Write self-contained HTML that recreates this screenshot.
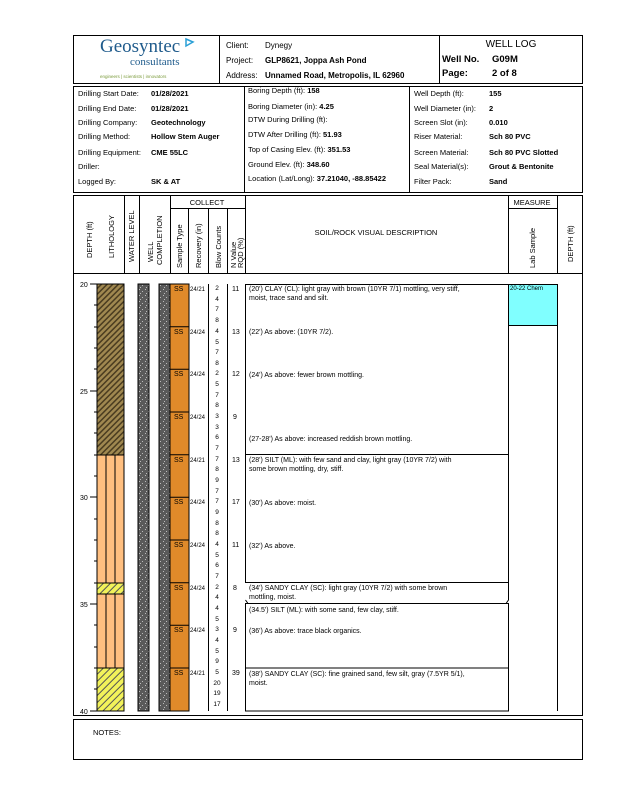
<!DOCTYPE html>
<html><head><meta charset="utf-8"><style>
body{margin:0;background:#fff;}
svg{display:block;font-family:"Liberation Sans",Arial,sans-serif;}
</style></head><body>
<svg width="618" height="800" viewBox="0 0 618 800" xmlns="http://www.w3.org/2000/svg">
<defs>
<pattern id="hb" width="4" height="4" patternUnits="userSpaceOnUse" patternTransform="rotate(45)">
<rect width="4" height="4" fill="#a08850"/><rect width="1.5" height="4" fill="#4a3c20"/></pattern>
<pattern id="hy" width="5" height="5" patternUnits="userSpaceOnUse" patternTransform="rotate(45)">
<rect width="5" height="5" fill="#f2f25a"/><rect width="1" height="5" fill="#555"/></pattern>
<pattern id="gr" width="6" height="6" patternUnits="userSpaceOnUse">
<rect width="6" height="6" fill="#5a5a5a"/><rect x="1" y="1" width="1" height="1" fill="#bbb"/><rect x="4" y="3" width="1" height="1" fill="#bbb"/><rect x="2" y="5" width="1" height="1" fill="#bbb"/></pattern>
</defs>
<g fill="none" stroke="#000" stroke-width="1">
<rect x="73.5" y="35.5" width="509" height="48"/>
<line x1="219.5" y1="35" x2="219.5" y2="84"/>
<line x1="439.5" y1="35" x2="439.5" y2="84"/>
<rect x="73.5" y="86.5" width="509" height="106"/>
<line x1="244.5" y1="86" x2="244.5" y2="193"/>
<line x1="409.5" y1="86" x2="409.5" y2="193"/>
<rect x="73.5" y="195.5" width="509" height="520"/>
<line x1="73" y1="273.5" x2="583" y2="273.5"/>
</g>
<!-- logo -->
<text x="100" y="52" font-family="Liberation Serif,serif" font-size="19" fill="#1f5b8c">Geosyntec</text>
<path d="M186 39 L193 42 L186 46 Z" fill="none" stroke="#2a9fd6" stroke-width="1.5"/>
<text x="130" y="65" font-family="Liberation Serif,serif" font-size="11" fill="#1f5b8c">consultants</text>
<text x="100" y="78" font-size="4.5" fill="#7a9a3a">engineers | scientists | innovators</text>
<g font-size="8" fill="#000">
<text x="226" y="48">Client:</text><text x="265" y="48">Dynegy</text>
<text x="226" y="63">Project:</text><text x="265" y="63" font-weight="bold">GLP8621, Joppa Ash Pond</text>
<text x="226" y="78">Address:</text><text x="265" y="78" font-weight="bold">Unnamed Road, Metropolis, IL 62960</text>
</g>
<text x="511" y="47" font-size="10" text-anchor="middle">WELL LOG</text>
<text x="442" y="62" font-size="9.5" font-weight="bold">Well No.</text><text x="492" y="62" font-size="9.5" font-weight="bold">G09M</text>
<text x="442" y="76" font-size="9.5" font-weight="bold">Page:</text><text x="492" y="76" font-size="9.5" font-weight="bold">2 of 8</text>
<g font-size="7.5" fill="#000">
<text x="78" y="96">Drilling Start Date:</text><text x="151" y="96" font-weight="bold">01/28/2021</text>
<text x="78" y="111">Drilling End Date:</text><text x="151" y="111" font-weight="bold">01/28/2021</text>
<text x="78" y="125">Drilling Company:</text><text x="151" y="125" font-weight="bold">Geotechnology</text>
<text x="78" y="139">Drilling Method:</text><text x="151" y="139" font-weight="bold">Hollow Stem Auger</text>
<text x="78" y="155">Drilling Equipment:</text><text x="151" y="155" font-weight="bold">CME 55LC</text>
<text x="78" y="169">Driller:</text>
<text x="78" y="184">Logged By:</text><text x="151" y="184" font-weight="bold">SK &amp; AT</text>
<text x="248" y="93">Boring Depth (ft):   <tspan font-weight="bold">158</tspan></text>
<text x="248" y="109">Boring Diameter (in):   <tspan font-weight="bold">4.25</tspan></text>
<text x="248" y="122">DTW During Drilling (ft):</text>
<text x="248" y="137">DTW After Drilling (ft):   <tspan font-weight="bold">51.93</tspan></text>
<text x="248" y="152">Top of Casing Elev. (ft): <tspan font-weight="bold">351.53</tspan></text>
<text x="248" y="167">Ground Elev. (ft):  <tspan font-weight="bold">348.60</tspan></text>
<text x="248" y="181">Location (Lat/Long):  <tspan font-weight="bold">37.21040, -88.85422</tspan></text>
<text x="414" y="96">Well Depth (ft):</text><text x="489" y="96" font-weight="bold">155</text>
<text x="414" y="111">Well Diameter (in):</text><text x="489" y="111" font-weight="bold">2</text>
<text x="414" y="125">Screen Slot (in):</text><text x="489" y="125" font-weight="bold">0.010</text>
<text x="414" y="139">Riser Material:</text><text x="489" y="139" font-weight="bold">Sch 80 PVC</text>
<text x="414" y="155">Screen Material:</text><text x="489" y="155" font-weight="bold">Sch 80 PVC Slotted</text>
<text x="414" y="169">Seal Material(s):</text><text x="489" y="169" font-weight="bold">Grout &amp; Bentonite</text>
<text x="414" y="184">Filter Pack:</text><text x="489" y="184" font-weight="bold">Sand</text>
</g>
<!-- column header -->
<g stroke="#000" stroke-width="1">
<line x1="124.5" y1="195" x2="124.5" y2="273"/>
<line x1="139.5" y1="195" x2="139.5" y2="273"/>
<line x1="170.5" y1="195" x2="170.5" y2="273"/>
<line x1="188.5" y1="208" x2="188.5" y2="273"/>
<line x1="208.5" y1="208" x2="208.5" y2="273"/>
<line x1="227.5" y1="208" x2="227.5" y2="273"/>
<line x1="245.5" y1="195" x2="245.5" y2="273"/>
<line x1="508.5" y1="195" x2="508.5" y2="273"/>
<line x1="557.5" y1="195" x2="557.5" y2="273"/>
<line x1="170" y1="208.5" x2="245" y2="208.5"/>
<line x1="508" y1="208.5" x2="557" y2="208.5"/>
</g>
<g font-size="7.5" fill="#000">
<text x="207" y="205" text-anchor="middle">COLLECT</text>
<text x="532" y="205" text-anchor="middle">MEASURE</text>
<text x="376" y="235" text-anchor="middle">SOIL/ROCK VISUAL DESCRIPTION</text>
<text transform="translate(92,258) rotate(-90)">DEPTH (ft)</text>
<text transform="translate(114,258) rotate(-90)">LITHOLOGY</text>
<text transform="translate(134,262) rotate(-90)">WATER LEVEL</text>
<text transform="translate(153,262) rotate(-90)">WELL</text>
<text transform="translate(162,265) rotate(-90)">COMPLETION</text>
<text transform="translate(182,268) rotate(-90)">Sample Type</text>
<text transform="translate(201,268) rotate(-90)">Recovery (in)</text>
<text transform="translate(221,268) rotate(-90)">Blow Counts</text>
<text transform="translate(236,268) rotate(-90)">N Value</text>
<text transform="translate(243,268) rotate(-90)">RQD (%)</text>
<text transform="translate(535,268) rotate(-90)">Lab Sample</text>
<text transform="translate(573,262) rotate(-90)">DEPTH (ft)</text>
</g>
<!-- lithology -->
<rect x="97" y="284" width="27" height="171" fill="url(#hb)" stroke="#000"/>
<rect x="97" y="455" width="27" height="128" fill="#ffbf80" stroke="#000"/>
<rect x="97" y="583" width="27" height="11" fill="url(#hy)" stroke="#000"/>
<rect x="97" y="594" width="27" height="74" fill="#ffbf80" stroke="#000"/>
<rect x="97" y="668" width="27" height="43" fill="url(#hy)" stroke="#000"/>
<g stroke="#000"><line x1="106" y1="455" x2="106" y2="583"/><line x1="115" y1="455" x2="115" y2="583"/><line x1="106" y1="594" x2="106" y2="668"/><line x1="115" y1="594" x2="115" y2="668"/></g>
<!-- well -->
<rect x="138" y="284" width="11" height="427" fill="url(#gr)" stroke="#000"/>
<rect x="159" y="284" width="11" height="427" fill="url(#gr)" stroke="#000"/>
<!-- samples -->
<rect x="170" y="284" width="19" height="427" fill="#e08a2a" stroke="#000"/>
<g stroke="#000">
<line x1="170" y1="326.7" x2="189" y2="326.7"/><line x1="170" y1="369.3" x2="189" y2="369.3"/><line x1="170" y1="412" x2="189" y2="412"/><line x1="170" y1="454.7" x2="189" y2="454.7"/><line x1="170" y1="497.3" x2="189" y2="497.3"/><line x1="170" y1="540" x2="189" y2="540"/><line x1="170" y1="582.7" x2="189" y2="582.7"/><line x1="170" y1="625.3" x2="189" y2="625.3"/><line x1="170" y1="668" x2="189" y2="668"/>
<line x1="208.5" y1="284" x2="208.5" y2="711"/><line x1="227.5" y1="284" x2="227.5" y2="711"/>
</g>
<g font-size="7" fill="#000">
<text x="174" y="291">SS</text><text x="190" y="291" font-size="6">24/21</text><text x="232" y="291">11</text>
<text x="174" y="334">SS</text><text x="190" y="334" font-size="6">24/24</text><text x="232" y="334">13</text>
<text x="174" y="376">SS</text><text x="190" y="376" font-size="6">24/24</text><text x="232" y="376">12</text>
<text x="174" y="419">SS</text><text x="190" y="419" font-size="6">24/24</text><text x="233" y="419">9</text>
<text x="174" y="462">SS</text><text x="190" y="462" font-size="6">24/21</text><text x="232" y="462">13</text>
<text x="174" y="504">SS</text><text x="190" y="504" font-size="6">24/24</text><text x="232" y="504">17</text>
<text x="174" y="547">SS</text><text x="190" y="547" font-size="6">24/24</text><text x="232" y="547">11</text>
<text x="174" y="590">SS</text><text x="190" y="590" font-size="6">24/24</text><text x="233" y="590">8</text>
<text x="174" y="632">SS</text><text x="190" y="632" font-size="6">24/24</text><text x="233" y="632">9</text>
<text x="174" y="675">SS</text><text x="190" y="675" font-size="6">24/21</text><text x="232" y="675">39</text>
</g>
<g font-size="6.5" fill="#000" text-anchor="middle">
<text x="217" y="290">2</text><text x="217" y="301">4</text><text x="217" y="311">7</text><text x="217" y="322">8</text>
<text x="217" y="333">4</text><text x="217" y="344">5</text><text x="217" y="354">7</text><text x="217" y="365">8</text>
<text x="217" y="375">2</text><text x="217" y="386">5</text><text x="217" y="397">7</text><text x="217" y="407">8</text>
<text x="217" y="418">3</text><text x="217" y="429">3</text><text x="217" y="439">6</text><text x="217" y="450">7</text>
<text x="217" y="461">7</text><text x="217" y="471">8</text><text x="217" y="482">9</text><text x="217" y="493">7</text>
<text x="217" y="503">7</text><text x="217" y="514">9</text><text x="217" y="525">8</text><text x="217" y="535">8</text>
<text x="217" y="546">4</text><text x="217" y="557">5</text><text x="217" y="567">6</text><text x="217" y="578">7</text>
<text x="217" y="589">2</text><text x="217" y="599">4</text><text x="217" y="610">4</text><text x="217" y="621">5</text>
<text x="217" y="631">3</text><text x="217" y="642">4</text><text x="217" y="653">5</text><text x="217" y="663">9</text>
<text x="217" y="674">5</text><text x="217" y="685">20</text><text x="217" y="695">19</text><text x="217" y="706">17</text>
</g>
<!-- depth axis -->
<g stroke="#000">
<line x1="97" y1="284" x2="97" y2="711"/>
<line x1="90" y1="284" x2="97" y2="284"/><line x1="90" y1="391" x2="97" y2="391"/><line x1="90" y1="497" x2="97" y2="497"/><line x1="90" y1="604" x2="97" y2="604"/><line x1="90" y1="711" x2="97" y2="711"/>
<line x1="94" y1="305" x2="97" y2="305"/><line x1="94" y1="327" x2="97" y2="327"/><line x1="94" y1="348" x2="97" y2="348"/><line x1="94" y1="369" x2="97" y2="369"/>
<line x1="94" y1="412" x2="97" y2="412"/><line x1="94" y1="433" x2="97" y2="433"/><line x1="94" y1="455" x2="97" y2="455"/><line x1="94" y1="476" x2="97" y2="476"/>
<line x1="94" y1="519" x2="97" y2="519"/><line x1="94" y1="540" x2="97" y2="540"/><line x1="94" y1="561" x2="97" y2="561"/><line x1="94" y1="583" x2="97" y2="583"/>
<line x1="94" y1="625" x2="97" y2="625"/><line x1="94" y1="647" x2="97" y2="647"/><line x1="94" y1="668" x2="97" y2="668"/><line x1="94" y1="689" x2="97" y2="689"/>
</g>
<g font-size="7" fill="#000">
<text x="80" y="287">20</text><text x="80" y="394">25</text><text x="80" y="500">30</text><text x="80" y="607">35</text><text x="80" y="714">40</text>
</g>
<!-- description -->
<g fill="none" stroke="#000">
<rect x="245.5" y="284.5" width="263" height="170"/>
<rect x="245.5" y="454.5" width="263" height="128"/>
<path d="M245.5 582.5 H508.5 V600 L506 603.5 H248 L245.5 600"/>
<rect x="245.5" y="603.5" width="263" height="64.5"/>
<rect x="245.5" y="668" width="263" height="43"/>
<line x1="557.5" y1="284" x2="557.5" y2="711"/>
</g>
<rect x="508.5" y="284.5" width="49" height="41" fill="#80ffff" stroke="#000"/>
<text x="510" y="290" font-size="6">20-22 Chem</text>
<g font-size="7" fill="#000">
<text x="249" y="291">(20') CLAY (CL): light gray with brown (10YR 7/1) mottling, very stiff,</text>
<text x="249" y="300">moist, trace sand and silt.</text>
<text x="249" y="334">(22') As above: (10YR 7/2).</text>
<text x="249" y="377">(24') As above: fewer brown mottling.</text>
<text x="249" y="441">(27-28') As above: increased reddish brown mottling.</text>
<text x="249" y="462">(28') SILT (ML): with few sand and clay, light gray (10YR 7/2) with</text>
<text x="249" y="471">some brown mottling, dry, stiff.</text>
<text x="249" y="505">(30') As above: moist.</text>
<text x="249" y="548">(32') As above.</text>
<text x="249" y="590">(34') SANDY CLAY (SC): light gray (10YR 7/2) with some brown</text>
<text x="249" y="599">mottling, moist.</text>
<text x="249" y="612">(34.5') SILT (ML): with some sand, few clay, stiff.</text>
<text x="249" y="633">(36') As above: trace black organics.</text>
<text x="249" y="676">(38') SANDY CLAY (SC): fine grained sand, few silt, gray (7.5YR 5/1),</text>
<text x="249" y="685">moist.</text>
</g>
<!-- notes -->
<rect x="73.5" y="719.5" width="509" height="40" fill="none" stroke="#000"/>
<text x="93" y="735" font-size="7.5">NOTES:</text>
</svg>
</body></html>
